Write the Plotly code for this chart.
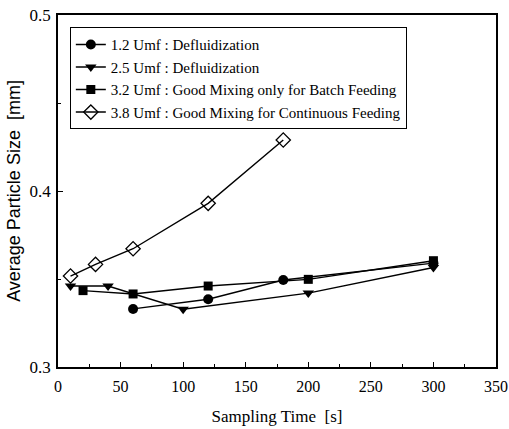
import plotly.graph_objects as go

# Data
t_12 = [60, 120, 180, 300]
d_12 = [0.333, 0.3385, 0.3494, 0.359]

t_25 = [10, 40, 100, 200, 300]
d_25 = [0.346, 0.346, 0.3328, 0.342, 0.3565]

t_32 = [20, 60, 120, 200, 300]
d_32 = [0.3434, 0.3415, 0.346, 0.3498, 0.3604]

t_38 = [10, 30, 60, 120, 180]
d_38 = [0.3517, 0.3583, 0.3672, 0.393, 0.429]

names = [
    "1.2 Umf : Defluidization",
    "2.5 Umf : Defluidization",
    "3.2 Umf : Good Mixing only for Batch Feeding",
    "3.8 Umf : Good Mixing for Continuous Feeding",
]

x_ticks = [0, 50, 100, 150, 200, 250, 300, 350]
y_ticks = [0.3, 0.4, 0.5]

SERIF = "Liberation Serif"
SANS = "Liberation Sans"

fig = go.Figure()
series = [
    (t_12, d_12, names[0], dict(symbol="circle", size=10, color="black")),
    (t_25, d_25, names[1], dict(symbol="triangle-down", size=10, color="black")),
    (t_32, d_32, names[2], dict(symbol="square", size=9, color="black")),
    (t_38, d_38, names[3], dict(symbol="diamond-open", size=11, color="black",
                                line=dict(width=1.3, color="black"))),
]
for x, y, n, m in series:
    fig.add_trace(go.Scatter(x=x, y=y, name=n, mode="lines+markers",
                             line=dict(color="black", width=1.4), marker=m))

fig.update_layout(
    width=509, height=429,
    margin=dict(l=58, r=13, t=15, b=62),
    paper_bgcolor="white", plot_bgcolor="white",
    font=dict(family=SERIF, color="black", size=13),
    showlegend=True,
    legend=dict(x=0.027, y=0.965, xanchor="left", yanchor="top",
                bordercolor="black", borderwidth=1, bgcolor="white",
                font=dict(family=SERIF, size=15), tracegroupgap=0,
                itemwidth=30),
    xaxis=dict(range=[0, 350], tickvals=x_ticks, ticktext=[str(v) for v in x_ticks],
               automargin=False,
               showgrid=False, zeroline=False, showline=True, linecolor="black",
               linewidth=1.5, mirror=True, ticks="inside", ticklen=5,
               tickcolor="black", ticklabelstandoff=4,
               minor=dict(dtick=25, ticks="inside", ticklen=3, tickcolor="black"),
               tickfont=dict(family=SERIF, size=16),
               title=dict(text="Sampling Time  [s]", font=dict(family=SERIF, size=17),
                          standoff=16)),
    yaxis=dict(range=[0.3, 0.5], tickvals=y_ticks, ticktext=["0.3", "0.4", "0.5"],
               automargin=False,
               showgrid=False, zeroline=False, showline=True, linecolor="black",
               linewidth=1.5, mirror=True, ticks="inside", ticklen=5,
               tickcolor="black", ticklabelstandoff=2,
               minor=dict(dtick=0.05, ticks="inside", ticklen=3, tickcolor="black"),
               tickfont=dict(family=SERIF, size=17),
               title=dict(text="Average Particle Size  [mm]",
                          font=dict(family=SANS, size=18), standoff=4)),
)

fig.write_html("out.html", config={"displayModeBar": False},
               post_script="document.body.style.margin='0';document.body.style.overflow='hidden';")
